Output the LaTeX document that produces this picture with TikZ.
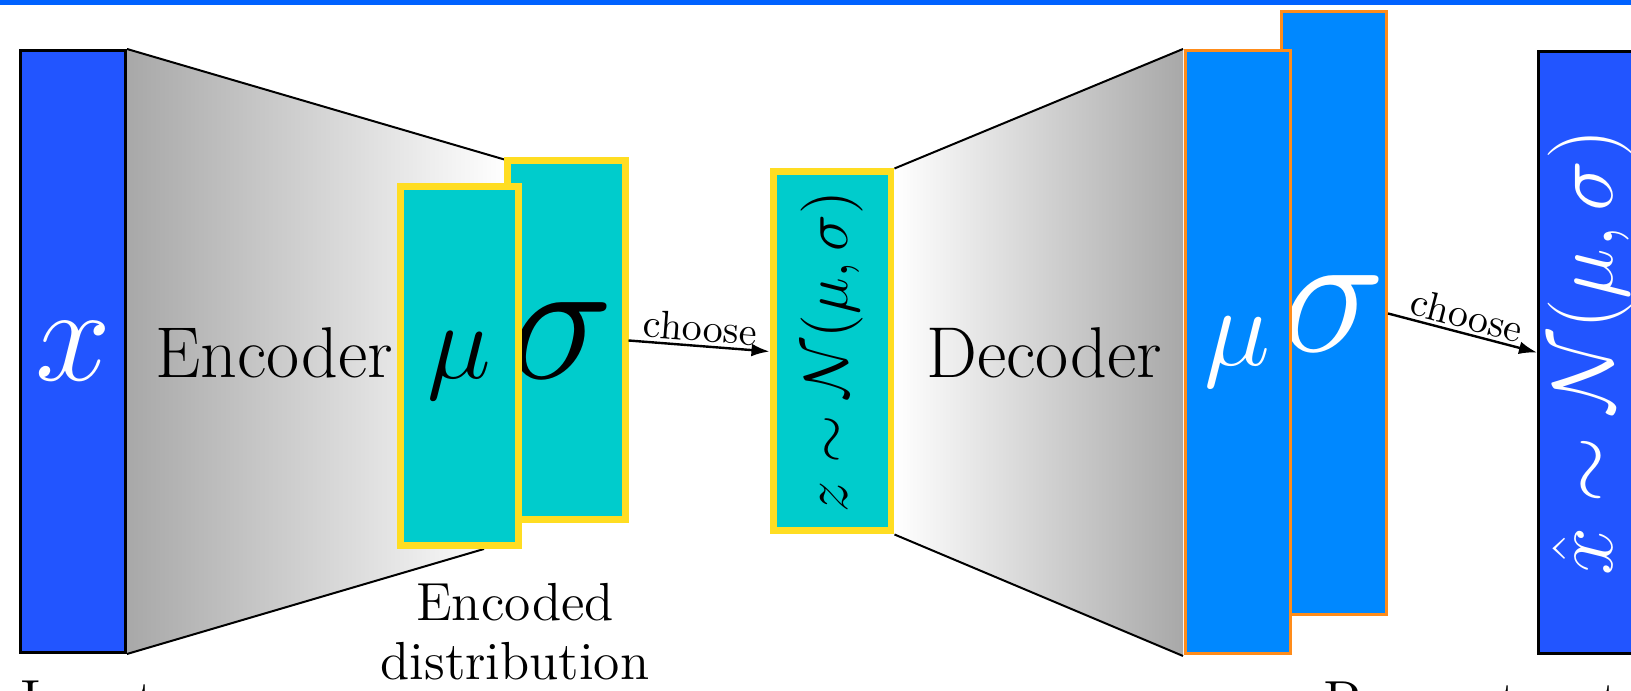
\RequirePackage{fix-cm}
\documentclass[tikz,border=0pt]{standalone}
\usepackage{amsmath,amssymb}
\usepackage{xcolor}
\usetikzlibrary{arrows.meta,positioning}

\definecolor{barblue}{RGB}{0,98,255}
\definecolor{inblue}{RGB}{34,85,255}
\definecolor{enccyan}{RGB}{0,204,204}
\definecolor{encyellow}{RGB}{255,221,34}
\definecolor{decblue}{RGB}{0,136,255}
\definecolor{decorange}{RGB}{255,140,26}
\definecolor{funnelgray}{RGB}{168,168,168}

\begin{document}
\begin{tikzpicture}[
  x=0.25pt, y=-0.25pt,
  >={Latex[length=4.5pt,width=3.2pt]},
  layer/.style={draw, inner sep=0pt, anchor=center},
  inbox/.style={layer, draw=black, fill=inblue, line width=0.75pt, minimum width=26.25pt, minimum height=150.5pt},
  encbox/.style={layer, draw=encyellow, fill=enccyan, line width=1.75pt, minimum width=29.5pt, minimum height=89.75pt},
  decbox/.style={layer, draw=decorange, fill=decblue, line width=0.75pt, minimum width=26.25pt, minimum height=150.75pt},
  sym/.style={inner sep=0pt, font=\fontsize{#1}{#1}\selectfont},
  lbl/.style={inner sep=0pt, font=\fontsize{#1}{#1}\selectfont},
  funnel/.style={draw=black, line width=0.5pt},
  pick/.style={sloped, above, inner sep=0.8pt},
]
\useasboundingbox (0,0) rectangle (1631,691);
\clip (0,0) rectangle (1631,691);
\fill[barblue] (0,0) rectangle (1631,5.5);

% input and encoder
\node[inbox] (inp) at (73,351.5) {};
\node[sym=34,text=white] (xtxt) at (inp) {$x$};
\coordinate (enctop) at (506,160);
\coordinate (encbot) at (484,549);
\shade[left color=funnelgray, right color=white] (inp.north east) -- (enctop) -- (506,549) -- (encbot) -- (inp.south east) -- cycle;
\draw[funnel] (inp.north east) -- (enctop) (inp.south east) -- (encbot);
\node[lbl=18] (encl) at (274,353) {Encoder};

% encoded distribution
\node[encbox] (sig) at (566,340.5) {};
\node[sym=44] (sigtxt) at ([xshift=-1pt]sig) {$\sigma$};
\node[encbox] (mu) at (459.5,366) {};
\node[sym=27] (mutxt) at (mu) {$\mu$};
\node[inner sep=0pt, align=center, font=\fontsize{13.4}{14.75}\selectfont] (distl) at (515,632) {Encoded\\distribution};

% sampled code
\node[encbox] (z) at (832,351.5) {};
\node[sym=15.5,rotate=90] (ztxt) at (z) {$z\sim\mathcal{N}(\mu,\sigma)$};
\draw[->, line width=0.6pt] (sig.east) -- node[pick] {choose} (z.west);

% decoder
\shade[left color=white, right color=funnelgray] (z.north east) -- (1183,49) -- (1183,656) -- (z.south east) -- cycle;
\draw[funnel] (z.north east) -- (1183,49) (z.south east) -- (1183,656);
\node[lbl=18] (decl) at (1044,353) {Decoder};

\node[decbox] (sigb) at (1334,313.5) {};
\node[sym=44,text=white] (sigbtxt) at (sigb) {$\sigma$};
\node[decbox] (mub) at (1237.5,352.5) {};
\node[sym=28,text=white] (mubtxt) at (mub) {$\mu$};

% reconstruction
\node[inbox] (xh) at (1591,352.5) {};
\node[sym=21.5,rotate=90,text=white] (xhtxt) at (xh) {$\hat{x}\sim\mathcal{N}(\mu,\sigma)$};
\draw[->, line width=0.6pt] (sigb.east) -- node[pick] {choose} (xh.west);

\node[lbl=14.5, anchor=north west] (inl) at (20,680) {Input};
\node[lbl=14.5, anchor=north west] (recl) at (1323,680) {Reconstructed input};
\end{tikzpicture}
\end{document}
